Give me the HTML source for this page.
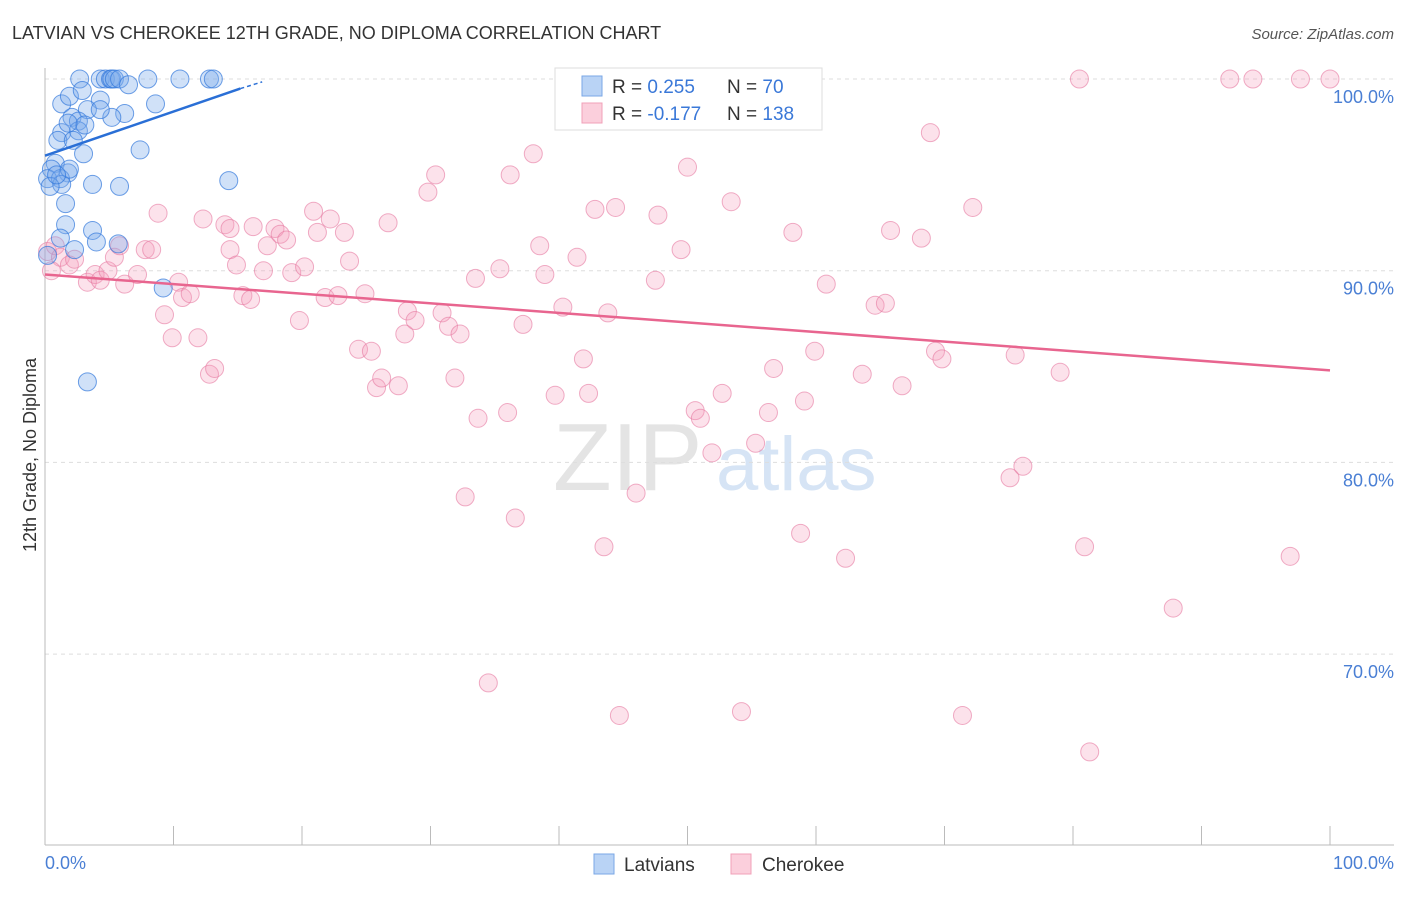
<!DOCTYPE html>
<html><head><meta charset="utf-8"><style>
body{margin:0;background:#fff;font-family:"Liberation Sans",sans-serif;}
svg text{font-family:"Liberation Sans",sans-serif;}
</style></head><body>
<svg id="chart" width="1406" height="892" xmlns="http://www.w3.org/2000/svg">
<text x="12" y="39" font-size="18" fill="#333">LATVIAN VS CHEROKEE 12TH GRADE, NO DIPLOMA CORRELATION CHART</text>
<text x="1394" y="39" font-size="15" fill="#555" text-anchor="end" font-style="italic">Source: ZipAtlas.com</text>
<text x="553" y="490" font-size="96" fill="#e4e4e4" font-family="Liberation Serif">ZIP</text>
<text x="716" y="490" font-size="76" fill="#d6e4f5">atlas</text>
<g id="grid"></g>
<g id="axes"></g>
<g id="pts"></g>
<g id="trend"></g>
<text x="36" y="455" font-size="18" fill="#333" text-anchor="middle" transform="rotate(-90 36 455)">12th Grade, No Diploma</text>
<text x="45" y="869" font-size="18" fill="#4a7fd4">0.0%</text>
<text x="1394" y="869" font-size="18" fill="#4a7fd4" text-anchor="end">100.0%</text>
<g>
<rect x="555" y="68" width="267" height="62" fill="#fff" stroke="#ddd"/>
<rect x="582" y="76" width="20" height="20" fill="#b9d3f5" stroke="#7aa7e6"/>
<rect x="582" y="103" width="20" height="20" fill="#fbcfdc" stroke="#f0a0b8"/>
<text x="612" y="93" font-size="19" fill="#333">R = <tspan fill="#3a78d8">0.255</tspan></text>
<text x="727" y="93" font-size="19" fill="#333">N = <tspan fill="#3a78d8"> 70</tspan></text>
<text x="612" y="120" font-size="19" fill="#333">R = <tspan fill="#3a78d8">-0.177</tspan></text>
<text x="727" y="120" font-size="19" fill="#333">N = <tspan fill="#3a78d8">138</tspan></text>
</g>
<g>
<rect x="594" y="854" width="20" height="20" fill="#b9d3f5" stroke="#7aa7e6"/>
<text x="624" y="871" font-size="19" fill="#333">Latvians</text>
<rect x="731" y="854" width="20" height="20" fill="#fbcfdc" stroke="#f0a0b8"/>
<text x="762" y="871" font-size="19" fill="#333">Cherokee</text>
</g>
</svg>
<script>
const yTicks=[100,90,80,70];
const yTickLabels=["100.0%","90.0%","80.0%","70.0%"];
const xTicks=[0,10,20,30,40,50,60,70,80,90,100];
const blueX=[2.7,4.3,4.7,5.1,5.2,5.4,5.8,8.0,10.5,12.8,13.1,6.5,1.3,1.9,2.9,4.3,8.6,6.2,3.3,2.1,2.6,5.2,1.3,2.6,1.0,2.2,3.1,1.8,4.3,7.4,3.0,0.8,0.5,1.8,0.2,1.2,1.3,0.4,3.7,5.8,14.3,1.6,1.6,3.7,1.2,4.0,5.7,2.3,0.2,9.2,3.3,1.9,0.9];
const blueY=[100,100,100,100,100,100,100,100,100,100,100,99.7,98.7,99.1,99.4,98.9,98.7,98.2,98.4,98.0,97.8,98.0,97.2,97.3,96.8,96.8,97.6,97.7,98.4,96.3,96.1,95.6,95.3,95.1,94.8,94.8,94.5,94.4,94.5,94.4,94.7,93.5,92.4,92.1,91.7,91.5,91.4,91.1,90.8,89.1,84.2,95.3,95.0];
const pinkX=[0.2,0.8,1.2,1.9,2.3,0.5,3.3,3.9,4.3,4.9,5.4,5.8,6.2,7.2,7.8,8.3,8.8,9.3,9.9,10.4,10.7,11.3,11.9,12.3,12.8,13.2,14.0,14.4,14.9,15.4,16.0,16.2,17.0,17.3,17.9,18.3,18.8,19.2,19.8,20.2,20.9,21.2,21.8,22.2,22.8,23.3,23.7,24.4,24.9,25.4,25.8,26.2,26.7,27.5,28.0,28.2,28.8,29.8,30.4,30.9,31.4,31.9,32.3,32.7,33.7,33.5,34.5,35.4,36.0,36.2,36.6,37.2,38.0,38.5,38.9,39.7,40.3,41.4,41.9,42.3,42.8,43.5,43.8,44.4,44.7,46.0,47.5,47.7,49.5,50.0,50.6,51.0,51.9,52.7,53.4,54.2,54.7,55.3,56.3,56.7,58.2,58.8,59.1,59.9,60.8,62.3,63.6,64.6,65.4,65.8,66.7,68.2,69.3,68.9,69.8,71.4,72.2,75.1,75.5,76.1,79.0,80.5,80.9,81.3,87.8,92.2,94.0,96.9,97.7,100,47.1,49.0,14.4];
const pinkY=[91.0,91.3,90.7,90.3,90.6,90.0,89.4,89.8,89.5,90.0,90.7,91.3,89.3,89.8,91.1,91.1,93.0,87.7,86.5,89.4,88.6,88.8,86.5,92.7,84.6,84.9,92.4,91.1,90.3,88.7,88.5,92.3,90.0,91.3,92.2,91.9,91.6,89.9,87.4,90.2,93.1,92.0,88.6,92.7,88.7,92.0,90.5,85.9,88.8,85.8,83.9,84.4,92.5,84.0,86.7,87.9,87.4,94.1,95.0,87.8,87.1,84.4,86.7,78.2,82.3,89.6,68.5,90.1,82.6,95.0,77.1,87.2,96.1,91.3,89.8,83.5,88.1,90.7,85.4,83.6,93.2,75.6,87.8,93.3,66.8,78.4,89.5,92.9,91.1,95.4,82.7,82.3,80.5,83.6,93.6,67.0,100,81.0,82.6,84.9,92.0,76.3,83.2,85.8,89.3,75.0,84.6,88.2,88.3,92.1,84.0,91.7,85.8,97.2,85.4,66.8,93.3,79.2,85.6,79.8,84.7,100,75.6,64.9,72.4,100,100,75.1,100,100,100,100,92.2];
const blueTrend=[[0,96.0],[15.2,99.5]];
const blueTrendExt=[[15.2,99.5],[16.9,99.85]];
const pinkTrend=[[0,89.8],[100,84.8]];

const NS="http://www.w3.org/2000/svg";
const X=v=>45+v*12.85;
const Y=v=>79+(100-v)*19.17;
function mk(tag,attrs,parent){const e=document.createElementNS(NS,tag);for(const k in attrs)e.setAttribute(k,attrs[k]);document.getElementById(parent).appendChild(e);return e;}
yTicks.forEach((t,i)=>{
  const l=mk('line',{x1:45,x2:1394,y1:Y(t),y2:Y(t),stroke:'#ddd','stroke-dasharray':'4,4'},'grid');
  
  
  const tx=mk('text',{x:1394,y:Y(t)+24,'font-size':18,fill:'#4a7fd4','text-anchor':'end'},'grid');
  tx.textContent=yTickLabels[i];
  
  
});
const ax=mk('line',{x1:45,x2:45,y1:68,y2:845,stroke:'#bbb'},'axes');


const bx=mk('line',{x1:45,x2:1394,y1:845,y2:845,stroke:'#bbb'},'axes');


xTicks.forEach(t=>{
  const l=mk('line',{x1:X(t),x2:X(t),y1:826,y2:845,stroke:'#bbb'},'axes');
  
  
});
pinkX.forEach((v,i)=>{
  const c=mk('circle',{cx:X(v),cy:Y(pinkY[i]),r:9,fill:'rgba(245,160,190,0.3)',stroke:'rgba(230,120,160,0.6)','stroke-width':1},'pts');
  
  
});
blueX.forEach((v,i)=>{
  const c=mk('circle',{cx:X(v),cy:Y(blueY[i]),r:9,fill:'rgba(120,170,235,0.35)',stroke:'rgba(50,120,220,0.7)','stroke-width':1},'pts');
  
  
});
const pt=mk('line',{x1:X(pinkTrend[0][0]),y1:Y(pinkTrend[0][1]),x2:X(pinkTrend[1][0]),y2:Y(pinkTrend[1][1]),stroke:'#e8658f','stroke-width':2.5},'trend');


const bt=mk('line',{x1:X(blueTrend[0][0]),y1:Y(blueTrend[0][1]),x2:X(blueTrend[1][0]),y2:Y(blueTrend[1][1]),stroke:'#2a6fd6','stroke-width':2.5},'trend');


const be=mk('line',{x1:X(blueTrendExt[0][0]),y1:Y(blueTrendExt[0][1]),x2:X(blueTrendExt[1][0]),y2:Y(blueTrendExt[1][1]),stroke:'#2a6fd6','stroke-width':1.5,'stroke-dasharray':'4,3'},'trend');


</script>
</body></html>
